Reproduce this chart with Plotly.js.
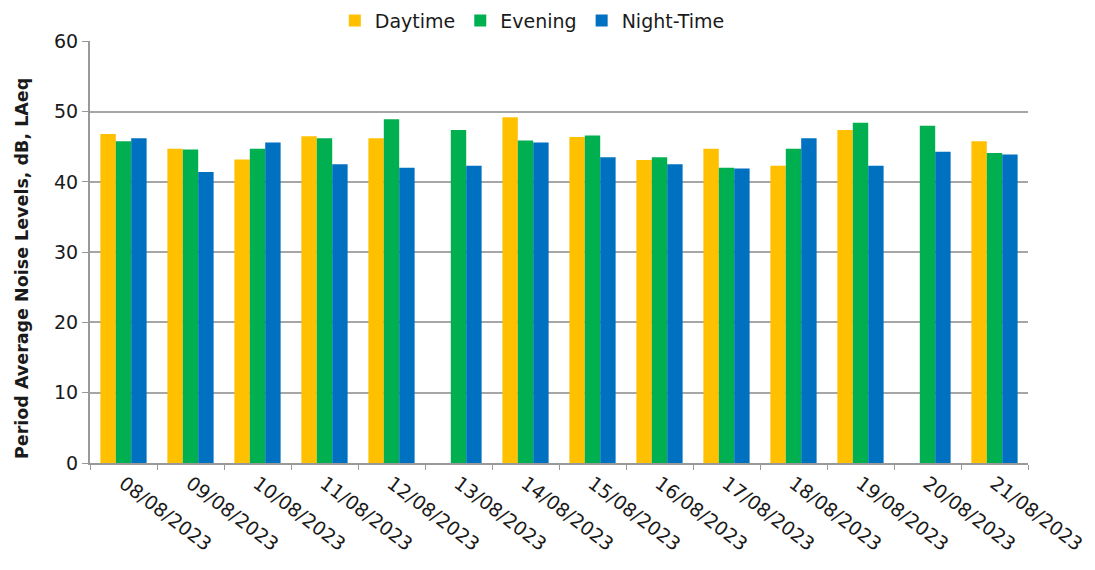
<!DOCTYPE html>
<html><head><meta charset="utf-8">
<script src="https://cdn.plot.ly/plotly-3.0.1.min.js"></script>
<style>html,body{margin:0;padding:0;background:#fff}#chart{width:1095px;height:570px}</style>
</head><body><div id="chart"></div>
<script>
const dates = ["08/08/2023","09/08/2023","10/08/2023","11/08/2023","12/08/2023","13/08/2023","14/08/2023","15/08/2023","16/08/2023","17/08/2023","18/08/2023","19/08/2023","20/08/2023","21/08/2023"];
const daytime = [46.8,44.7,43.2,46.5,46.2,null,49.2,46.4,43.1,44.7,42.3,47.4,null,45.8];
const evening = [45.8,44.6,44.7,46.2,48.9,47.4,45.9,46.6,43.5,42.0,44.7,48.4,48.0,44.1];
const night   = [46.2,41.4,45.6,42.5,42.0,42.3,45.6,43.5,42.5,41.9,46.2,42.3,44.3,43.9];
const yTicks = [0,10,20,30,40,50,60];
const yTitle = "Period Average Noise Levels, dB, LAeq";

const font = "Verdana, 'DejaVu Sans', sans-serif";
const mk = (name, y, color) => ({type:"bar", name, x:dates, y, marker:{color}});
const data = [
  mk("Daytime", daytime, "#FFC000"),
  mk("Evening", evening, "#00B050"),
  mk("Night-Time", night, "#0070C0")
];
const layout = {
  width:1095, height:570,
  margin:{l:90, r:67, t:41, b:107, autoexpand:false},
  paper_bgcolor:"#fff", plot_bgcolor:"#fff",
  bargap:0.31, bargroupgap:0,
  font:{family:font, color:"#1a1a1a", size:18},
  showlegend:true,
  legend:{orientation:"h", x:0.261, xanchor:"left", y:1.048, yanchor:"middle", font:{size:19, family:font, color:"#1a1a1a"}, itemwidth:30, traceorder:"normal"},
  xaxis:{type:"category", tickangle:37, tickson:"boundaries", ticks:"outside", ticklen:5, tickcolor:"#999",
         showline:true, linecolor:"#999", linewidth:2, showgrid:false, tickfont:{size:19, family:font}},
  yaxis:{range:[0,60.05], tickvals:yTicks, ticks:"outside", ticklen:6, tickcolor:"#999",
         showline:true, linecolor:"#999", linewidth:2, showgrid:true, gridcolor:"#a6a6a6", gridwidth:2,
         zeroline:false, tickfont:{size:19, family:font}},
  annotations:[{text:"<b>"+yTitle+"</b>", textangle:-90, xref:"paper", yref:"paper",
    x:-0.0725, y:0.462, xanchor:"center", yanchor:"middle", showarrow:false, font:{size:17.5, family:font, color:"#1a1a1a"}}]
};
Plotly.newPlot("chart", data, layout, {displayModeBar:false, staticPlot:true});
</script></body></html>
